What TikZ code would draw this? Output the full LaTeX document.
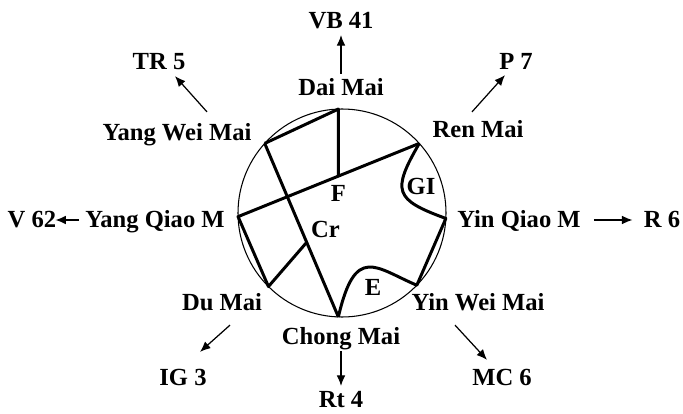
\documentclass[tikz,border=0pt]{standalone}
\usepackage{fontspec}
\setmainfont{Liberation Serif}
\usetikzlibrary{arrows.meta,calc}

\begin{document}
\begin{tikzpicture}[
x=0.02cm,y=0.02cm,
every node/.style={font=\fontsize{14}{16}\selectfont\bfseries,
text height=9pt,text depth=0pt},
vessel/.style={line width=1.7pt,line join=round},
pointer/.style={->,line width=0.7pt},
>={Latex[length=6pt,width=5pt]}]

\useasboundingbox (0,0) rectangle (683,413);

\coordinate (c) at (342,200);

\draw[line width=0.6pt] (c) circle (104);

\coordinate (dai) at ($(c)+(92:104)$);
\coordinate (ren) at ($(c)+(42:104)$);
\coordinate (yinq) at ($(c)+(-3:104)$);
\coordinate (yinw) at ($(c)+(-44:104)$);
\coordinate (chong) at ($(c)+(-92:104)$);
\coordinate (du) at ($(c)+(-135:104)$);
\coordinate (yangq) at ($(c)+(182:104)$);
\coordinate (yangw) at ($(c)+(138:104)$);

\coordinate (F) at (intersection of ren--yangq and dai--chong);
\coordinate (cr) at ($(yangw)!0.57!(chong)$);

\draw[vessel] (yangw) -- (dai) -- (F);
\draw[vessel] (ren) -- (yangq) -- (du) -- (cr);
\draw[vessel] (yangw) -- (chong);
\draw[vessel] (ren) .. controls +(240:55) and +(160:55) .. (yinq)
  -- (yinw) .. controls +(157:45) and +(77:75) .. (chong);

\node (f) [below=2pt] at (F) {F};
\node (crl) [above right=-1pt] at (cr) {Cr};
\node (gi) at (421,226) {GI};
\node (e) at (373,125) {E};

\node (tdai) at (341,325) {Dai Mai};
\node (vb) at (341,392) {VB 41};

\node (tyangw) at (177,280) {Yang Wei Mai};
\node (tr) at (159,351) {TR 5};

\node (tren) at (478,283) {Ren Mai};
\node (p) at (516,351) {P 7};

\node (tyangq) at (155,193) {Yang Qiao M};
\node (v) at (32,193) {V 62};

\node (tyinq) at (519,193) {Yin Qiao M};
\node (r) at (662,193) {R 6};

\node (tdu) at (222,110) {Du Mai};
\node (ig) at (183,35) {IG 3};

\node (tchong) at (341,76) {Chong Mai};
\node (rt) at (341,13) {Rt 4};

\node (tyinw) at (478,110) {Yin Wei Mai};
\node (mc) at (502,35) {MC 6};

\draw[pointer] (tdai) -- (vb);
\draw[pointer] ([shift={(30,7)}]tyangw.north) -- ([shift={(16,0)}]tr.south);
\draw[pointer] ([shift={(-6,4)}]tren.north) -- ([shift={(-11,1)}]p.south);
\draw[pointer,shorten >=-4pt] (tyangq) -- (v);
\draw[pointer,shorten <=4pt,shorten >=3pt] (tyinq) -- (r);
\draw[pointer] ([shift={(8,-8)}]tdu.south) -- ([shift={(17,12)}]ig.north);
\draw[pointer] (tchong) -- (rt);
\draw[pointer] ([shift={(-23,-8)}]tyinw.south) -- ([shift={(-15,4)}]mc.north);

\end{tikzpicture}
\end{document}
